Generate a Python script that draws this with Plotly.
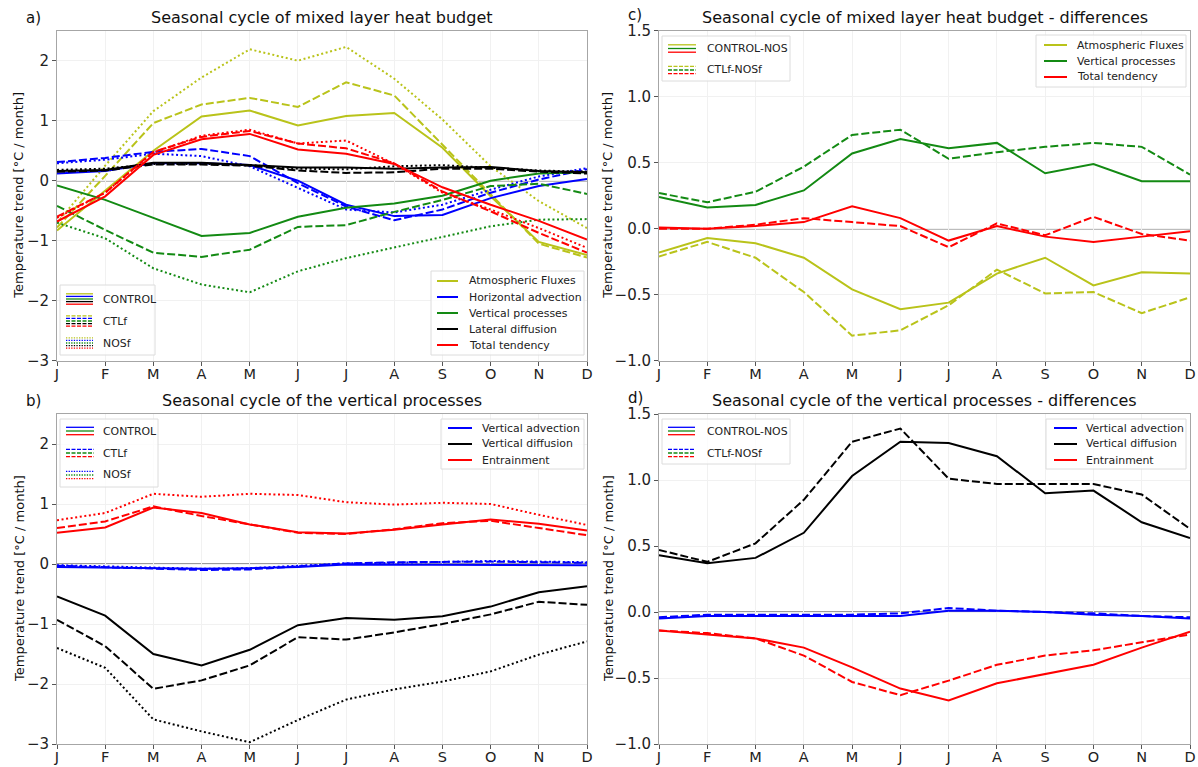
import plotly.graph_objects as go

W, H = 1198, 767

months = ["J", "F", "M", "A", "M", "J", "J", "A", "S", "O", "N", "D"]
xs = list(range(12))

# ---- panel a: mixed layer heat budget ----
atm_control = [-0.83, -0.17, 0.50, 1.07, 1.17, 0.92, 1.08, 1.13, 0.55, -0.26, -1.02, -1.24]
atm_ctlf = [-0.78, 0.08, 0.96, 1.27, 1.38, 1.23, 1.64, 1.42, 0.60, -0.22, -1.05, -1.28]
atm_nosf = [-0.70, 0.25, 1.16, 1.72, 2.19, 2.00, 2.23, 1.70, 1.02, 0.24, -0.34, -0.79]
hadv_control = [0.12, 0.16, 0.29, 0.29, 0.26, 0.00, -0.40, -0.59, -0.57, -0.29, -0.09, 0.03]
hadv_ctlf = [0.31, 0.38, 0.48, 0.53, 0.41, -0.04, -0.43, -0.66, -0.48, -0.20, 0.02, 0.19]
hadv_nosf = [0.29, 0.35, 0.45, 0.41, 0.24, -0.12, -0.48, -0.53, -0.40, -0.15, 0.07, 0.21]
vert_control = [-0.08, -0.32, -0.62, -0.92, -0.87, -0.60, -0.45, -0.38, -0.25, 0.00, 0.12, 0.14]
vert_ctlf = [-0.42, -0.82, -1.20, -1.27, -1.15, -0.77, -0.74, -0.52, -0.32, -0.09, -0.05, -0.22]
vert_nosf = [-0.70, -0.96, -1.46, -1.73, -1.86, -1.51, -1.29, -1.11, -0.93, -0.76, -0.65, -0.64]
lat_control = [0.16, 0.18, 0.30, 0.30, 0.26, 0.22, 0.22, 0.20, 0.22, 0.23, 0.16, 0.14]
lat_ctlf = [0.15, 0.17, 0.27, 0.27, 0.25, 0.17, 0.13, 0.14, 0.20, 0.20, 0.15, 0.12]
lat_nosf = [0.18, 0.20, 0.28, 0.28, 0.26, 0.20, 0.19, 0.24, 0.26, 0.22, 0.17, 0.15]
tot_control = [-0.68, -0.26, 0.43, 0.69, 0.78, 0.52, 0.45, 0.28, -0.11, -0.40, -0.67, -0.98]
tot_ctlf = [-0.60, -0.20, 0.48, 0.73, 0.83, 0.62, 0.54, 0.29, -0.18, -0.51, -0.87, -1.20]
tot_nosf = [-0.62, -0.20, 0.47, 0.75, 0.85, 0.62, 0.67, 0.28, -0.20, -0.48, -0.79, -1.12]

# ---- panel b: vertical processes ----
vadv_control = [-0.05, -0.06, -0.07, -0.08, -0.07, -0.05, -0.01, -0.01, -0.01, -0.01, -0.01, -0.02]
vadv_ctlf = [-0.03, -0.05, -0.08, -0.10, -0.09, -0.04, 0.01, 0.03, 0.04, 0.04, 0.03, 0.02]
vadv_nosf = [-0.02, -0.04, -0.06, -0.08, -0.07, -0.03, 0.01, 0.02, 0.03, 0.05, 0.04, 0.03]
vdif_control = [-0.54, -0.86, -1.50, -1.69, -1.43, -1.02, -0.90, -0.93, -0.87, -0.71, -0.47, -0.37]
vdif_ctlf = [-0.93, -1.37, -2.08, -1.94, -1.69, -1.22, -1.26, -1.14, -1.00, -0.84, -0.63, -0.68]
vdif_nosf = [-1.40, -1.73, -2.59, -2.79, -2.97, -2.60, -2.26, -2.09, -1.96, -1.79, -1.51, -1.29]
ent_control = [0.52, 0.61, 0.94, 0.85, 0.66, 0.53, 0.51, 0.57, 0.66, 0.74, 0.67, 0.56]
ent_ctlf = [0.60, 0.71, 0.96, 0.80, 0.66, 0.52, 0.50, 0.58, 0.68, 0.72, 0.60, 0.48]
ent_nosf = [0.73, 0.85, 1.17, 1.12, 1.17, 1.15, 1.03, 0.99, 1.02, 1.00, 0.82, 0.65]

# ---- panel c: heat budget differences ----
dc_atm_ctrl = [-0.18, -0.07, -0.11, -0.22, -0.46, -0.61, -0.56, -0.34, -0.22, -0.43, -0.33, -0.34]
dc_atm_ctlf = [-0.21, -0.10, -0.22, -0.48, -0.81, -0.77, -0.58, -0.31, -0.49, -0.48, -0.64, -0.52]
dc_vert_ctrl = [0.24, 0.16, 0.18, 0.29, 0.57, 0.68, 0.61, 0.65, 0.42, 0.49, 0.36, 0.36]
dc_vert_ctlf = [0.27, 0.20, 0.28, 0.47, 0.71, 0.75, 0.53, 0.58, 0.62, 0.65, 0.62, 0.41]
dc_tot_ctrl = [0.01, 0.00, 0.02, 0.05, 0.17, 0.08, -0.09, 0.02, -0.06, -0.10, -0.06, -0.02]
dc_tot_ctlf = [0.00, 0.00, 0.03, 0.08, 0.05, 0.02, -0.14, 0.04, -0.05, 0.09, -0.04, -0.09]

# ---- panel d: vertical processes differences ----
dd_vadv_ctrl = [-0.05, -0.03, -0.03, -0.03, -0.03, -0.03, 0.01, 0.01, 0.00, -0.02, -0.03, -0.05]
dd_vadv_ctlf = [-0.04, -0.02, -0.02, -0.02, -0.02, -0.01, 0.03, 0.01, 0.00, -0.01, -0.03, -0.04]
dd_vdif_ctrl = [0.43, 0.37, 0.41, 0.60, 1.03, 1.29, 1.28, 1.18, 0.90, 0.92, 0.68, 0.56]
dd_vdif_ctlf = [0.47, 0.38, 0.52, 0.85, 1.29, 1.39, 1.01, 0.97, 0.97, 0.97, 0.89, 0.63]
dd_ent_ctrl = [-0.14, -0.17, -0.20, -0.27, -0.42, -0.58, -0.67, -0.54, -0.47, -0.40, -0.27, -0.15]
dd_ent_ctlf = [-0.14, -0.16, -0.20, -0.33, -0.53, -0.63, -0.52, -0.40, -0.33, -0.29, -0.23, -0.17]

titles = ["Seasonal cycle of mixed layer heat budget",
          "Seasonal cycle of the vertical processes",
          "Seasonal cycle of mixed layer heat budget - differences",
          "Seasonal cycle of the vertical processes - differences"]
panel_letters = ["a)", "b)", "c)", "d)"]
ytitle = "Temperature trend [°C / month]"

YEL, BLU, GRN, BLK, RED = "#b9c31a", "#0000ff", "#138a13", "#000000", "#ff0000"
DASH = "8px,3px"
DOT = "2px,2.6px"
FONT = "DejaVu Sans"


def px(x):
    return x / W


def py(y):
    return 1 - y / H


# subplot pixel boxes (left, right, top, bottom)
boxes = {
    "": (57, 587, 30.7, 360.7),
    "2": (57, 587, 414, 744),
    "3": (659, 1190, 30.7, 360.7),
    "4": (659, 1190, 414, 744),
}

fig = go.Figure()


def add(ax, y, color, dash, name):
    fig.add_trace(go.Scatter(x=xs, y=y, mode="lines", name=name,
                             line=dict(color=color, width=2, dash=dash),
                             xaxis="x" + ax, yaxis="y" + ax, showlegend=False))


# panel a
for name, col, sers in [("Atmospheric Fluxes", YEL, (atm_control, atm_ctlf, atm_nosf)),
                        ("Horizontal advection", BLU, (hadv_control, hadv_ctlf, hadv_nosf)),
                        ("Vertical processes", GRN, (vert_control, vert_ctlf, vert_nosf)),
                        ("Lateral diffusion", BLK, (lat_control, lat_ctlf, lat_nosf)),
                        ("Total tendency", RED, (tot_control, tot_ctlf, tot_nosf))]:
    for s, d, lab in zip(sers, ("solid", DASH, DOT), ("CONTROL", "CTLf", "NOSf")):
        add("", s, col, d, f"{name} ({lab})")

# panel b
for name, col, sers in [("Vertical advection", BLU, (vadv_control, vadv_ctlf, vadv_nosf)),
                        ("Vertical diffusion", BLK, (vdif_control, vdif_ctlf, vdif_nosf)),
                        ("Entrainment", RED, (ent_control, ent_ctlf, ent_nosf))]:
    for s, d, lab in zip(sers, ("solid", DASH, DOT), ("CONTROL", "CTLf", "NOSf")):
        add("2", s, col, d, f"{name} ({lab})")

# panel c
for name, col, sers in [("Atmospheric Fluxes", YEL, (dc_atm_ctrl, dc_atm_ctlf)),
                        ("Vertical processes", GRN, (dc_vert_ctrl, dc_vert_ctlf)),
                        ("Total tendency", RED, (dc_tot_ctrl, dc_tot_ctlf))]:
    for s, d, lab in zip(sers, ("solid", DASH), ("CONTROL-NOS", "CTLf-NOSf")):
        add("3", s, col, d, f"{name} ({lab})")

# panel d
for name, col, sers in [("Vertical advection", BLU, (dd_vadv_ctrl, dd_vadv_ctlf)),
                        ("Vertical diffusion", BLK, (dd_vdif_ctrl, dd_vdif_ctlf)),
                        ("Entrainment", RED, (dd_ent_ctrl, dd_ent_ctlf))]:
    for s, d, lab in zip(sers, ("solid", DASH), ("CONTROL-NOS", "CTLf-NOSf")):
        add("4", s, col, d, f"{name} ({lab})")

yranges = {"": [-3, 2.5], "2": [-3, 2.5], "3": [-1, 1.5], "4": [-1, 1.5]}
ytickv = {"": [-3, -2, -1, 0, 1, 2], "2": [-3, -2, -1, 0, 1, 2],
          "3": [-1.0, -0.5, 0.0, 0.5, 1.0, 1.5], "4": [-1.0, -0.5, 0.0, 0.5, 1.0, 1.5]}
ytickfmt = {"": "d", "2": "d", "3": ".1f", "4": ".1f"}

axis_common = dict(showline=True, mirror=True, linecolor="#a6a6a6", linewidth=1,
                   ticks="outside", ticklen=4, tickcolor="#555555", tickwidth=1,
                   showgrid=True, gridcolor="#f1f1f1", gridwidth=1, zeroline=False,
                   automargin=False)

layout = {}
shapes = []
annotations = []
for ax, (l, r, t, b) in boxes.items():
    layout["xaxis" + ax] = dict(axis_common, domain=[px(l), px(r)], anchor="y" + ax,
                                range=[0, 11], tickmode="array", tickvals=xs, ticktext=months,
                                tickfont=dict(family=FONT, size=14.5, color="#222222"),
                                ticklabelstandoff=-4)
    layout["yaxis" + ax] = dict(axis_common, domain=[py(b), py(t)], anchor="x" + ax,
                                range=yranges[ax], tickmode="array", tickvals=ytickv[ax],
                                tickformat=ytickfmt[ax],
                                tickfont=dict(family=FONT, size=15, color="#222222"))
    # zero reference line
    shapes.append(dict(type="line", xref=("x" + ax) + " domain", yref="y" + ax,
                       x0=0, x1=1, y0=0, y1=0, layer="below",
                       line=dict(color="#7a7a7a", width=1.5)))

# titles, panel letters, y-axis titles
for i, (ax, (l, r, t, b)) in enumerate(boxes.items()):
    annotations.append(dict(text=titles[i], xref="paper", yref="paper", x=px((l + r) / 2),
                            y=py(t - 13.5), xanchor="center", yanchor="middle", showarrow=False,
                            font=dict(family=FONT, size=16, color="#111111")))
    lx = 24 if l < 300 else 626
    ly = t - 13 if l < 300 else t - 16
    annotations.append(dict(text=panel_letters[i], xref="paper", yref="paper", x=px(lx),
                            y=py(ly), xanchor="left", yanchor="middle", showarrow=False,
                            font=dict(family=FONT, size=15, color="#111111")))
    tx = 19 if l < 300 else 608
    annotations.append(dict(text=ytitle, xref="paper", yref="paper", x=px(tx),
                            y=py((t + b) / 2), xanchor="center", yanchor="middle",
                            textangle=-90, showarrow=False,
                            font=dict(family=FONT, size=13, color="#111111")))

LEG_FONT = dict(family=FONT, size=10.9, color="#222222")


def legend_box(x0, x1, y0, y1):
    shapes.append(dict(type="rect", xref="paper", yref="paper", x0=px(x0), x1=px(x1),
                       y0=py(y1), y1=py(y0), line=dict(color="#dcdcdc", width=1),
                       fillcolor="rgba(255,255,255,0.8)", layer="above"))


def color_legend(labels, colors, xl0, xl1, xt, rows, box):
    legend_box(*box)
    for lab, col, yr in zip(labels, colors, rows):
        shapes.append(dict(type="line", xref="paper", yref="paper", x0=px(xl0), x1=px(xl1),
                           y0=py(yr), y1=py(yr), line=dict(color=col, width=2), layer="above"))
        annotations.append(dict(text=lab, xref="paper", yref="paper", x=px(xt), y=py(yr),
                                xanchor="left", yanchor="middle", showarrow=False, font=LEG_FONT))


def style_legend(labels, dashes, colors, xl0, xl1, xt, rows, box, spacing):
    legend_box(*box)
    n = len(colors)
    for lab, dsh, yr in zip(labels, dashes, rows):
        for k, col in enumerate(colors):
            off = (k - (n - 1) / 2) * spacing
            shapes.append(dict(type="line", xref="paper", yref="paper", x0=px(xl0), x1=px(xl1),
                               y0=py(yr + off), y1=py(yr + off),
                               line=dict(color=col, width=1.3, dash=dsh), layer="above"))
        annotations.append(dict(text=lab, xref="paper", yref="paper", x=px(xt), y=py(yr),
                                xanchor="left", yanchor="middle", showarrow=False, font=LEG_FONT))


ICON_DASH = "4px,1.5px"
ICON_DOT = "1.3px,1.3px"

# panel a legends
color_legend(["Atmospheric Fluxes", "Horizontal advection", "Vertical processes",
              "Lateral diffusion", "Total tendency"],
             [YEL, BLU, GRN, BLK, RED], 437, 458, 467, [281, 297, 313, 329, 345],
             (431, 584, 271, 355))
style_legend(["CONTROL", "CTLf", "NOSf"], ["solid", ICON_DASH, ICON_DOT],
             [YEL, BLU, GRN, BLK, RED], 66, 93, 101, [299, 321, 343], (60, 155, 285, 355), 2.6)

# panel b legends
color_legend(["Vertical advection", "Vertical diffusion", "Entrainment"],
             [BLU, BLK, RED], 448, 472, 480, [428, 444, 460], (441, 584, 419, 469))
style_legend(["CONTROL", "CTLf", "NOSf"], ["solid", ICON_DASH, ICON_DOT],
             [BLU, GRN, RED], 66, 94, 101, [431, 453, 475], (60, 158, 419, 487), 3.7)

# panel c legends
color_legend(["Atmospheric Fluxes", "Vertical processes", "Total tendency"],
             [YEL, GRN, RED], 1044, 1067, 1075, [45, 61, 77], (1036, 1186, 35, 87))
style_legend(["CONTROL-NOS", "CTLf-NOSf"], ["solid", ICON_DASH],
             [YEL, GRN, RED], 668, 696, 705, [48.5, 70], (662, 790, 36, 81), 3.7)

# panel d legends
color_legend(["Vertical advection", "Vertical diffusion", "Entrainment"],
             [BLU, BLK, RED], 1054, 1077, 1084, [428, 444, 460], (1046, 1186, 419, 469))
style_legend(["CONTROL-NOS", "CTLf-NOSf"], ["solid", ICON_DASH],
             [BLU, GRN, RED], 668, 695, 705, [431, 453], (662, 790, 419, 464), 3.7)

fig.update_layout(
    width=W, height=H,
    margin=dict(l=0, r=0, t=0, b=0, pad=0),
    paper_bgcolor="white", plot_bgcolor="white",
    font=dict(family=FONT, size=13, color="#222222"),
    showlegend=False,
    shapes=shapes, annotations=annotations,
    **layout,
)

fig.write_html("out.html", config={"displayModeBar": False},
               post_script="document.body.style.margin='0px';document.body.style.padding='0px';")
